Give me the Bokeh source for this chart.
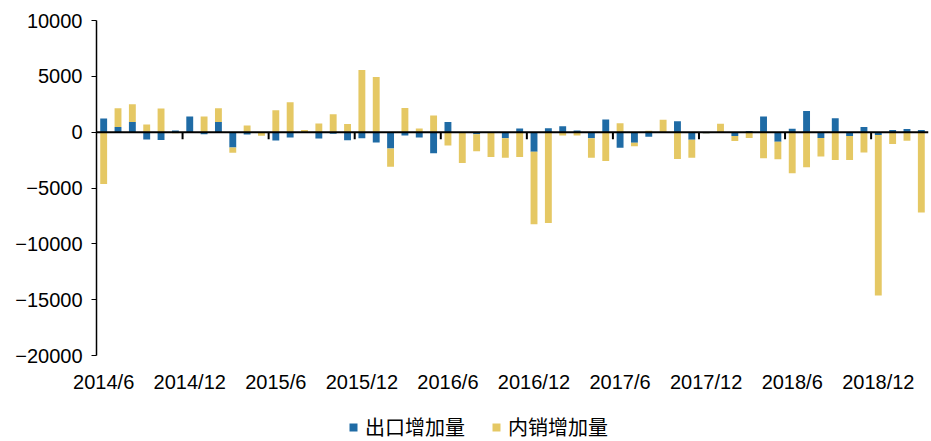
from bokeh.plotting import figure
from bokeh.layouts import column
from bokeh.models import (Range1d, FixedTicker, Legend, LegendItem, Span,
                          ColumnDataSource, BasicTickFormatter)
from bokeh.embed import file_html
from bokeh.resources import INLINE

# ---- data (monthly, 2014/6 .. 2019/3) ----
tick_labels = ["2014/6", "2014/12", "2015/6", "2015/12", "2016/6",
               "2016/12", "2017/6", "2017/12", "2018/6", "2018/12"]

export_inc = [1215, 470, 920, -660, -700, 150, 1400, -180, 900, -1370,
              -200, -60, -750, -480, -50, -570, -150, -720, -540, -920,
              -1460, -300, -480, -1880, 920, -50, -180, -30, -540, 330,
              -1760, 360, 540, 150, -540, 1130, -1400, -940, -400, 0,
              970, -670, -100, 0, -340, 100, 1410, -850, 310, 1900,
              -520, 1240, -340, 460, -250, 200, 290, 200]

domestic_inc = [-4650, 1680, 1580, 680, 2110, -100, -50, 1400, 1250, -480,
                600, -250, 1970, 2680, 200, 770, 1610, 740, 5570, 4940,
                -1640, 2170, 330, 1490, -1190, -2710, -1520, -2200, -1760, -2230,
                -6490, -8130, -300, -300, -1760, -2590, 800, -310, 130, 1120,
                -2400, -1610, -30, 760, -450, -520, -2340, -1580, -3680, -3150,
                -1670, -2490, -2150, -1830, -14370, -1060, -760, -7200]

series_names = ["出口增加量", "内销增加量"]
colors = ["#1F6BA5", "#E5C864"]

y_min, y_max, y_step = -20000, 10000, 5000

n = len(export_inc)
idx = list(range(n))
# stacking (positives up from zero, negatives down from zero)
d_bottom = [max(b, 0) if d >= 0 else min(b, 0) for b, d in zip(export_inc, domestic_inc)]
d_top = [yb + d for yb, d in zip(d_bottom, domestic_inc)]

src = ColumnDataSource(dict(x=idx, b_top=export_inc, b_bot=[0] * n,
                            d_top=d_top, d_bot=d_bottom))

W, H = 931, 400
ML, MR, MT, MB = 96, 3, 20, 45
p = figure(width=W, height=H, output_backend="svg", toolbar_location=None,
           x_range=Range1d(-0.5, n - 0.5), y_range=Range1d(y_min, y_max),
           min_border_left=ML, min_border_right=MR, min_border_top=MT,
           min_border_bottom=MB)
p.outline_line_color = None
p.xgrid.grid_line_color = None
p.ygrid.grid_line_color = None
p.background_fill_color = "white"
p.border_fill_color = "white"

bw = 0.48
p.vbar(x="x", top="b_top", bottom="b_bot", width=bw, source=src,
       fill_color=colors[0], line_color=None)
p.vbar(x="x", top="d_top", bottom="d_bot", width=bw, source=src,
       fill_color=colors[1], line_color=None)

FONT = "Liberation Sans"

# y axis
ya = p.yaxis[0]
ya.ticker = FixedTicker(ticks=list(range(y_min, y_max + 1, y_step)))
ya.formatter = BasicTickFormatter(use_scientific=False)
ya.axis_line_color = "black"
ya.axis_line_width = 1.5
ya.major_tick_line_color = "black"
ya.major_tick_out = 5
ya.major_tick_in = 0
ya.minor_tick_out = 0
ya.minor_tick_in = 0
ya.major_label_text_font = FONT
ya.major_label_text_font_size = "20px"
ya.major_label_text_color = "black"
ya.major_label_standoff = 9

# x labels axis (bottom)
xa = p.xaxis[0]
label_pos = list(range(0, n, 6))[:len(tick_labels)]
xa.ticker = FixedTicker(ticks=label_pos)
xa.major_label_overrides = {pos: lab for pos, lab in zip(label_pos, tick_labels)}
xa.axis_line_color = None
xa.major_tick_line_color = None
xa.minor_tick_line_color = None
xa.major_tick_out = 0
xa.major_tick_in = 0
xa.minor_tick_out = 0
xa.major_label_text_font = FONT
xa.major_label_text_font_size = "20px"
xa.major_label_text_color = "black"
xa.major_label_standoff = 15

# zero line with boundary ticks every 6 months
p.add_layout(Span(location=0, dimension="width", line_color="black", line_width=2))
frame_h = H - MT - MB
tick_len = 7 * (y_max - y_min) / frame_h
z_ticks = [i - 0.5 for i in range(6, n, 6)]
p.segment(x0=z_ticks, y0=[0] * len(z_ticks), x1=z_ticks, y1=[-tick_len] * len(z_ticks),
          line_color="black", line_width=2)

# ---- legend strip below the chart (frame aligned with the chart frame) ----
LH = 41
lg = figure(width=W, height=LH, output_backend="svg", toolbar_location=None,
            x_range=Range1d(0, 1), y_range=Range1d(0, 1),
            x_axis_location=None, y_axis_location=None,
            min_border=0, min_border_left=0, min_border_right=0,
            min_border_top=0, min_border_bottom=0)
lg.outline_line_color = None
lg.xgrid.grid_line_color = None
lg.ygrid.grid_line_color = None
# placeholder points outside the visible range, used only for the legend swatches
lr1 = lg.scatter(x=[5], y=[5], marker="square", fill_color=colors[0], line_color=None)
lr2 = lg.scatter(x=[5], y=[5], marker="square", fill_color=colors[1], line_color=None)
legend = Legend(items=[LegendItem(label=series_names[0], renderers=[lr1]),
                       LegendItem(label=series_names[1], renderers=[lr2])],
                orientation="horizontal", location=(247, 0),
                label_text_font="Noto Sans CJK SC", label_text_font_size="20px",
                label_text_color="black",
                glyph_width=20, glyph_height=24, label_height=24,
                label_standoff=2, spacing=21,
                padding=0, margin=0, border_line_color=None,
                background_fill_alpha=0)
lg.add_layout(legend)

layout = column(p, lg, spacing=0)
open("out.html", "w").write(file_html(layout, INLINE))
